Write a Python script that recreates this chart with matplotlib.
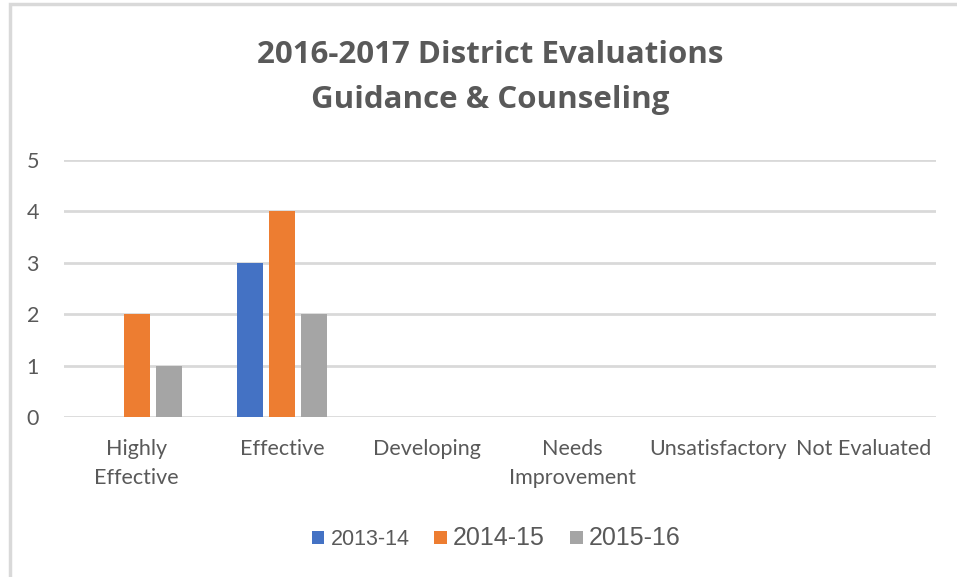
import matplotlib.pyplot as plt
import numpy as np
from matplotlib.patches import Rectangle

# Data
categories = ["Highly\nEffective", "Effective", "Developing", "Needs\nImprovement",
              "Unsatisfactory", "Not Evaluated"]
series_names = ["2013-14", "2014-15", "2015-16"]
vals_2013 = [0, 3, 0, 0, 0, 0]
vals_2014 = [2, 4, 0, 0, 0, 0]
vals_2015 = [1, 2, 0, 0, 0, 0]
colors = ["#4472C4", "#ED7D31", "#A5A5A5"]

W, H = 957, 577
fig = plt.figure(figsize=(W / 100, H / 100), dpi=100)
fig.patch.set_facecolor("white")

# chart frame (light gray border, cut off at right/bottom)
fig.add_artist(Rectangle((10 / W, -0.05), 1.1, (H - 4) / H + 0.05, transform=fig.transFigure,
                         fill=False, edgecolor="#d9d9d9", linewidth=2.5))

ax = fig.add_axes([64 / W, 1 - 417 / H, (936 - 64) / W, (417 - 160) / H])
x = np.arange(len(categories))
bw = 0.18
step = 0.22
for i, (vals, name) in enumerate(zip([vals_2013, vals_2014, vals_2015], series_names)):
    ax.bar(x + (i - 1) * step, vals, width=bw, color=colors[i], label=name, zorder=3)

ax.set_xlim(-0.5, len(categories) - 0.5)
ax.set_ylim(0, 5)
ax.set_yticks(range(6))
ax.grid(axis="y", color="#d9d9d9", linewidth=2, zorder=0)
for s in ax.spines.values():
    s.set_visible(False)
ax.set_xticks(x)
ax.set_xticklabels(categories, fontsize=15.5, color="#595959", family="Lato", linespacing=1.55)
ax.tick_params(axis="x", length=0, pad=16)
ax.tick_params(axis="y", length=0, pad=18, labelsize=15.5, labelcolor="#595959")
for lab in ax.get_yticklabels():
    lab.set_family("Lato")

fig.text(490 / W, 1 - 55 / H, "2016-2017 District Evaluations", ha="center", va="center",
         fontsize=22.5, fontweight="bold", color="#595959", family="Open Sans")
fig.text(490 / W, 1 - 100 / H, "Guidance & Counseling", ha="center", va="center",
         fontsize=22.5, fontweight="bold", color="#595959", family="Open Sans")

leg = ax.legend(loc="center", bbox_to_anchor=(496 / W, 1 - 538 / H), bbox_transform=fig.transFigure,
                ncol=3, frameon=False, handlelength=0.6, handleheight=0.6, handletextpad=0.28,
                columnspacing=1.15, prop={"family": "Liberation Sans", "size": 15.5})
sizes = [15.5, 18, 18]
for t, s in zip(leg.get_texts(), sizes):
    t.set_fontsize(s)
    t.set_color("#595959")

fig.savefig("out.png", dpi=100)
